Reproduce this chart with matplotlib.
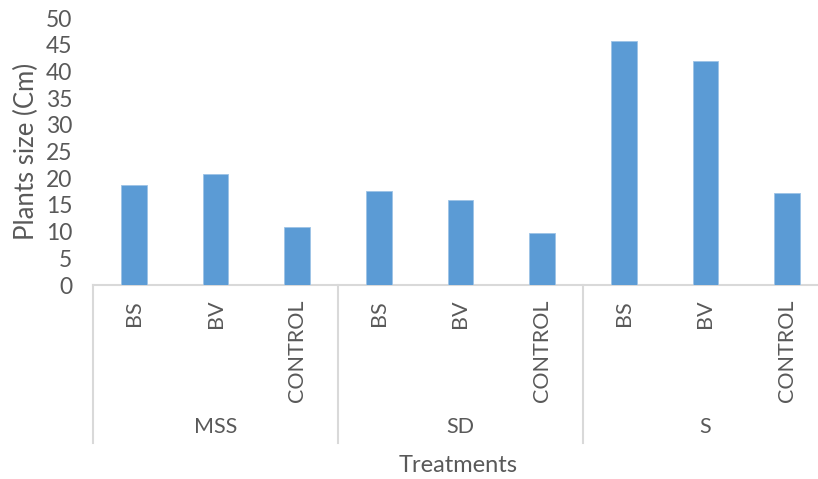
import matplotlib
matplotlib.use('Agg')
from matplotlib import pyplot as plt
import numpy as np

# alturas medias de las plantas por tratamiento
groups = ['MSS', 'SD', 'S']
treatments = ['BS', 'BV', 'CONTROL']
mss = [18.7, 20.8, 10.8]
sd = [17.7, 15.9, 9.8]
s = [45.8, 42.0, 17.3]
yticks = [0, 5, 10, 15, 20, 25, 30, 35, 40, 45, 50]

values = mss + sd + s
labels = treatments * len(groups)

plt.rcParams['font.family'] = ['Lato', 'DejaVu Sans']
gris = '#595959'
linea = '#D9D9D9'

fig = plt.figure(figsize=(8.18, 4.79), dpi=100)
ax = fig.add_axes([0.1137, 0.405, 0.8985, 0.557])

x = np.arange(len(values))
ax.bar(x, values, width=0.314, color='#5B9BD5', edgecolor='#9DC3E6', linewidth=0.6, zorder=3)

ax.set_xlim(-0.5, len(values) - 0.5)
ax.set_ylim(0, 50)
ax.set_yticks(yticks)
ax.tick_params(axis='y', length=0, pad=15, labelsize=16.5, labelcolor=gris)
ax.set_xticks([])
for lado in ['left', 'right', 'top']:
    ax.spines[lado].set_visible(False)
ax.spines['bottom'].set_color(linea)
ax.spines['bottom'].set_linewidth(1.5)

ax.set_ylabel('Plants size (Cm)', fontsize=18.5, color=gris, labelpad=5)

tr = ax.get_xaxis_transform()
# etiquetas de cada tratamiento, giradas
for i, lab in enumerate(labels):
    ax.text(x[i], -0.056, lab, transform=tr, rotation=90, ha='center', va='top',
            fontsize=15.5, color=gris, clip_on=False)

# separadores y nombre de cada grupo
n = len(treatments)
for g, nombre in enumerate(groups):
    izq = g * n - 0.5
    ax.plot([izq, izq], [0, -0.592], transform=tr, color=linea, lw=1.5, clip_on=False)
    ax.text(izq + n / 2, -0.532, nombre, transform=tr, ha='center', va='center',
            fontsize=15.5, color=gris, clip_on=False)
fin = len(values) - 0.5
ax.plot([fin, fin], [0, -0.592], transform=tr, color=linea, lw=1.5, clip_on=False)

fig.text(458 / 818, 1 - 465 / 479, 'Treatments', ha='center', va='center', fontsize=17, color=gris)

fig.savefig('out.png', dpi=100)
